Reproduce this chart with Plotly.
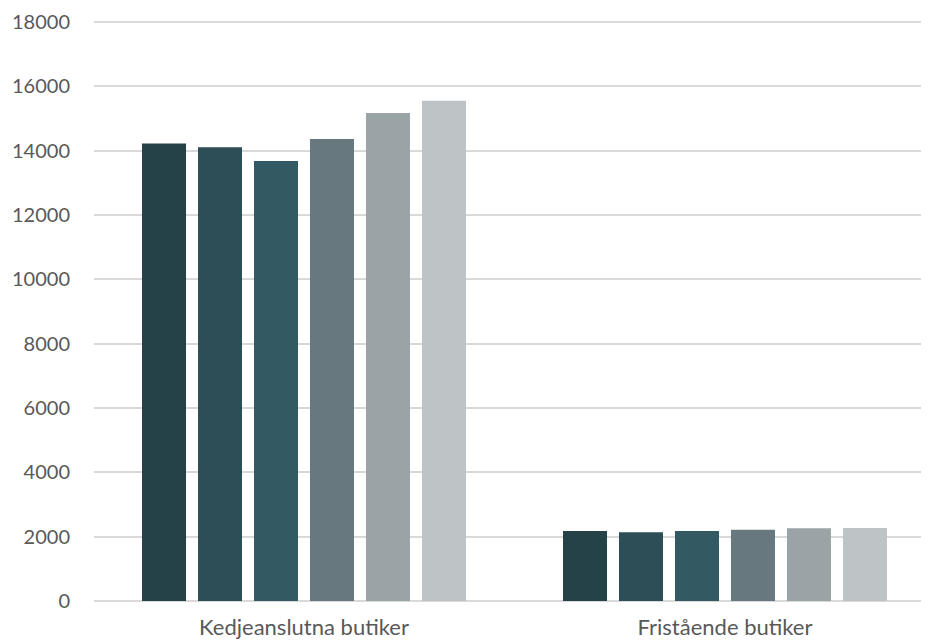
import plotly.graph_objects as go

categories = ["Kedjeanslutna butiker", "Fristående butiker"]
series_names = ["Serie 1", "Serie 2", "Serie 3", "Serie 4", "Serie 5", "Serie 6"]
serie_1 = [14220, 2175]
serie_2 = [14110, 2135]
serie_3 = [13680, 2175]
serie_4 = [14360, 2215]
serie_5 = [15170, 2260]
serie_6 = [15550, 2270]
colors = ["#264249", "#2D4E57", "#335A63", "#67797E", "#9AA3A6", "#BEC3C6"]
y_ticks = [0, 2000, 4000, 6000, 8000, 10000, 12000, 14000, 16000, 18000]

all_series = [serie_1, serie_2, serie_3, serie_4, serie_5, serie_6]

fig = go.Figure()
for name, vals, col in zip(series_names, all_series, colors):
    fig.add_trace(go.Bar(x=categories, y=vals, name=name, marker_color=col,
                         marker_line_width=0, showlegend=False))

fig.update_layout(
    width=921, height=634,
    margin=dict(l=86, r=0, t=5, b=41),
    barmode="group", bargap=0.202, bargroupgap=0.214,
    plot_bgcolor="white", paper_bgcolor="white",
    font=dict(family="Lato", size=20, color="#595959"),
)
fig.update_yaxes(range=[0, 18280], tickvals=y_ticks, ticktext=[str(v) for v in y_ticks],
                 gridcolor="#D9D9D9", gridwidth=1.5, zeroline=True, zerolinecolor="#D9D9D9",
                 zerolinewidth=1.5, showline=False, ticks="", ticklabelstandoff=23,
                 automargin=False)
fig.update_xaxes(range=[-0.4988, 1.4846], showline=False, ticks="", ticklabelstandoff=11,
                 automargin=False, tickfont=dict(size=22))

fig.write_html("out.html")
